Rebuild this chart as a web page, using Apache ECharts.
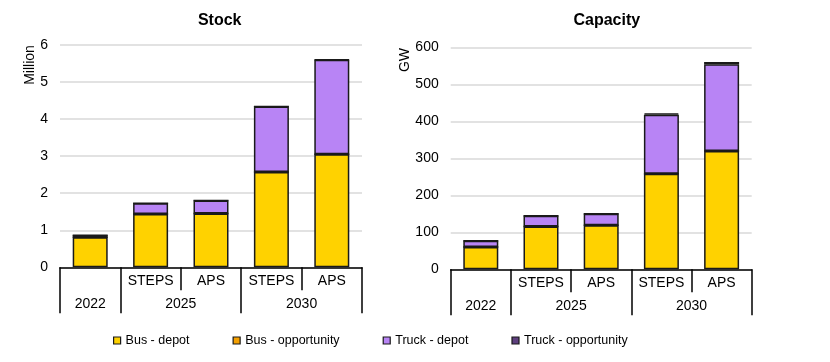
<!DOCTYPE html>
<html>
<head>
<meta charset="utf-8">
<script src="https://cdn.jsdelivr.net/npm/echarts@6/dist/echarts.min.js"></script>
<style>html,body{margin:0;padding:0;background:#fff}#c{width:830px;height:362px}</style>
</head>
<body>
<div id="c"></div>
<script>
// ---- data ----
const scenarioLabels = ['', 'STEPS', 'APS', 'STEPS', 'APS'];
const yearLabels = ['2022', '2025', '2030'];
const yearSpans = [1, 2, 2];
const seriesNames = ['Bus - depot', 'Bus - opportunity', 'Truck - depot', 'Truck - opportunity'];

const stockBusDepot = [0.81, 1.44, 1.45, 2.57, 3.05];
const stockBusOpp = [0, 0, 0, 0, 0];
const stockTruckDepot = [0.055, 0.29, 0.35, 1.77, 2.55];
const stockTruckOpp = [0, 0, 0, 0, 0.01];

const capBusDepot = [60, 116, 119, 258, 320];
const capBusOpp = [0, 0, 0, 0, 0];
const capTruckDepot = [17, 29, 31, 160, 234];
const capTruckOpp = [0, 0, 0, 3, 6];

const stockTicks = { min: 0, max: 6, interval: 1 };
const capTicks = { min: 0, max: 600, interval: 100 };

const colors = ['#FFD200', '#F5A000', '#B884F5', '#5E3F7E'];
const FONT = 'Liberation Sans, Arial, sans-serif';

// year group positions
let acc = 0;
const yearBoundaries = [0];
const yearCenters = [];
yearSpans.forEach(s => { yearCenters.push(acc + s / 2); acc += s; yearBoundaries.push(acc); });
function yearFmt(v) {
  for (let i = 0; i < yearCenters.length; i++) if (Math.abs(yearCenters[i] - v) < 1e-6) return yearLabels[i];
  return '';
}

const grids = [
  { left: 60, right: 468, top: 45, bottom: 94.7 },
  { left: 450.7, right: 78.3, top: 47.3, bottom: 92.7 }
];

function catAxis(gi) {
  return {
    type: 'category', gridIndex: gi, position: 'bottom', data: scenarioLabels,
    axisLine: { lineStyle: { color: '#000', width: 1.5 } },
    axisTick: { show: true, length: 23, lineStyle: { color: '#000', width: 1.5 } },
    axisLabel: { fontSize: 14, color: '#000', fontFamily: FONT, margin: 7, interval: 0 }
  };
}
function yearAxis(gi) {
  return {
    type: 'value', gridIndex: gi, position: 'bottom', min: 0, max: scenarioLabels.length,
    axisLine: { show: false }, splitLine: { show: false },
    axisTick: { show: true, customValues: yearBoundaries, length: 46, lineStyle: { color: '#000', width: 1.5 } },
    axisLabel: { customValues: yearCenters, formatter: yearFmt, fontSize: 14, color: '#000', fontFamily: FONT, margin: 30 }
  };
}
function valAxis(gi, t) {
  return {
    type: 'value', gridIndex: gi, min: t.min, max: t.max, interval: t.interval,
    axisLine: { show: false }, axisTick: { show: false },
    splitLine: { lineStyle: { color: '#d9d9d9', width: 1.5 } },
    axisLabel: { fontSize: 14, color: '#000', fontFamily: FONT, margin: 12 }
  };
}
function bars(gi, arrs) {
  return arrs.map((d, i) => ({
    name: seriesNames[i], type: 'bar', xAxisIndex: gi * 2, yAxisIndex: gi, stack: 's' + gi,
    barWidth: 35, data: d,
    itemStyle: { color: colors[i], borderColor: '#1a1a1a', borderWidth: 1.5 },
    emphasis: { disabled: true }
  }));
}

const chart = echarts.init(document.getElementById('c'), null, { renderer: 'canvas' });
chart.setOption({
  animation: false,
  textStyle: { fontFamily: FONT },
  title: [
    { text: 'Stock', left: 214.7, top: 8, textAlign: 'center', textStyle: { fontSize: 16, fontWeight: 'bold', color: '#000', fontFamily: FONT } },
    { text: 'Capacity', left: 601.8, top: 8, textAlign: 'center', textStyle: { fontSize: 16, fontWeight: 'bold', color: '#000', fontFamily: FONT } }
  ],
  grid: grids,
  xAxis: [catAxis(0), yearAxis(0), catAxis(1), yearAxis(1)],
  yAxis: [valAxis(0, stockTicks), valAxis(1, capTicks)],
  legend: {
    data: seriesNames, left: 108, top: 329, itemWidth: 7, itemHeight: 7, itemGap: 43,
    icon: 'rect',
    itemStyle: { borderColor: '#1a1a1a', borderWidth: 1.2 },
    textStyle: { fontSize: 12.5, color: '#000', fontFamily: FONT }
  },
  graphic: [
    { type: 'text', x: 30.5, y: 65, rotation: Math.PI / 2, style: { text: 'Million', fill: '#000', font: '14px ' + FONT, textAlign: 'center', textVerticalAlign: 'middle' } },
    { type: 'text', x: 405, y: 60, rotation: Math.PI / 2, style: { text: 'GW', fill: '#000', font: '14px ' + FONT, textAlign: 'center', textVerticalAlign: 'middle' } }
  ],
  series: [
    ...bars(0, [stockBusDepot, stockBusOpp, stockTruckDepot, stockTruckOpp]),
    ...bars(1, [capBusDepot, capBusOpp, capTruckDepot, capTruckOpp])
  ]
});
</script>
</body>
</html>
